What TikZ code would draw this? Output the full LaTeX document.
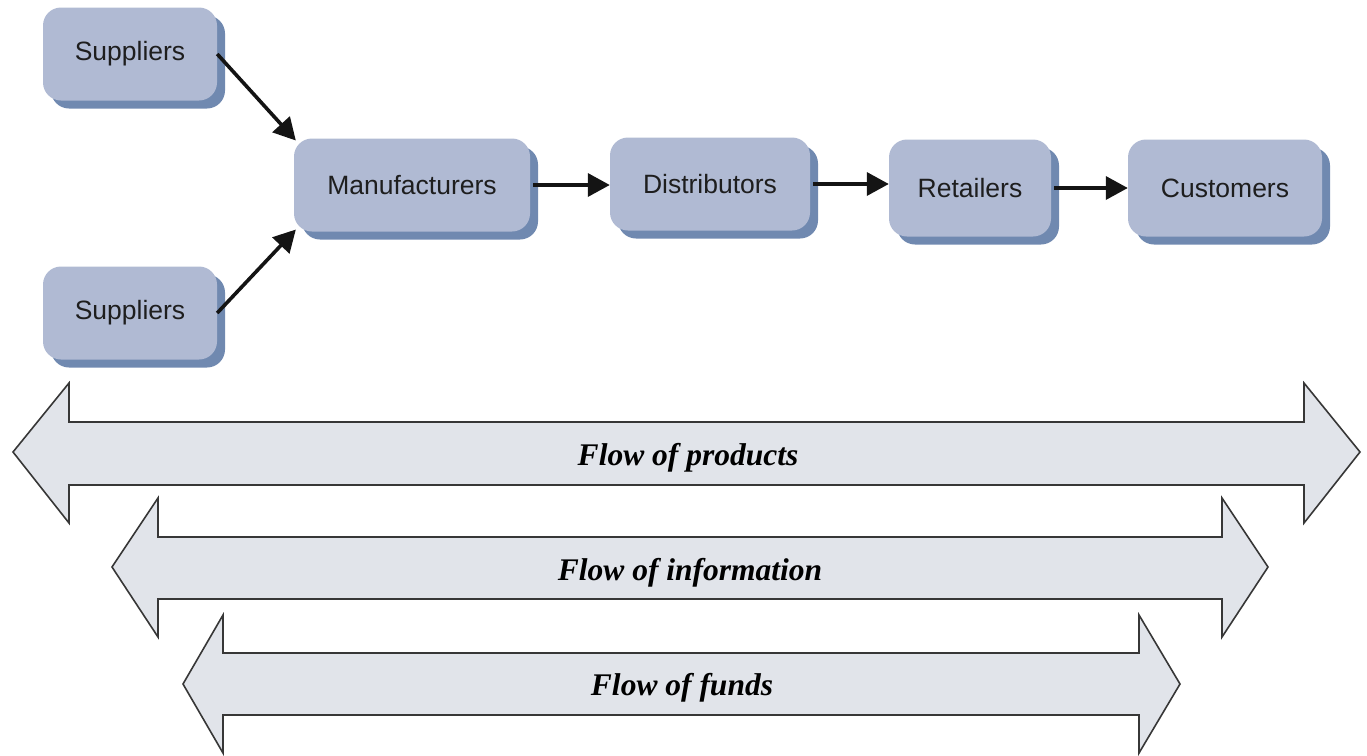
\documentclass[tikz,border=0pt]{standalone}
\usepackage{fontspec}
\setmainfont{Liberation Sans}
\newfontfamily\flowfont{Liberation Serif}
\usetikzlibrary{arrows.meta,shadows}
\definecolor{boxblue}{RGB}{176,186,211}
\definecolor{boxshade}{RGB}{112,137,176}
\definecolor{boxtext}{RGB}{30,30,30}
\definecolor{flowfill}{RGB}{225,228,234}
\definecolor{flowedge}{RGB}{55,55,55}
\definecolor{linkblack}{RGB}{20,20,20}
\begin{document}
\begin{tikzpicture}[x=1pt,y=-1pt]
        \tikzstyle{every node}=[inner sep=0pt]
        \tikzstyle{stage}=[rounded corners=18pt, fill=boxblue, text=boxtext, font=\fontsize{26.5}{30}\selectfont, minimum height=93pt, general shadow={fill=boxshade, shadow xshift=8pt, shadow yshift=-8pt}]
        \tikzstyle{link}=[-{Triangle[length=22pt,width=23pt]}, line width=3.6pt, draw=linkblack]
        \tikzstyle{flow}=[draw=flowedge, line width=1.6pt, fill=flowfill, line join=miter]
        \tikzstyle{flowtext}=[anchor=base, text=black, font=\flowfont\bfseries\itshape\fontsize{31.5}{36}\selectfont]
        \useasboundingbox (0,0) rectangle (1367,755);
        % chain of stages
        \node[stage, minimum width=174pt] (sup1) at (130,54) {Suppliers};
        \node[stage, minimum width=174pt] (sup2) at (130,313) {Suppliers};
        \node[stage, minimum width=236pt] (manu) at (412,185) {Manufacturers};
        \node[stage, minimum width=200pt] (dist) at (710,184) {Distributors};
        \node[stage, minimum width=162pt, minimum height=97pt] (reta) at (970,188) {Retailers};
        \node[stage, minimum width=194pt, minimum height=97pt] (cust) at (1225,188) {Customers};
        \draw[link, shorten >=-3pt] (sup1.east) -- (manu.north west);
        \draw[link, shorten >=-3pt] (sup2.east) -- (manu.south west);
        \draw[link, shorten <=3pt] (manu.east) -- (manu.east -| dist.west);
        \draw[link, shorten <=3pt] (dist.east) -- (dist.east -| reta.west);
        \draw[link, shorten <=3pt] (reta.east) -- (reta.east -| cust.west);
        % flows
        \draw[flow] (13,452) -- (69,383) -- (69,422) -- (1304,422) -- (1304,383) -- (1360,452) -- (1304,523) -- (1304,485) -- (69,485) -- (69,523) -- cycle;
        \draw[flow] (112,567) -- (158,498) -- (158,537) -- (1222,537) -- (1222,498) -- (1268,567) -- (1222,637) -- (1222,599) -- (158,599) -- (158,637) -- cycle;
        \draw[flow] (183,684) -- (223,615) -- (223,653) -- (1139,653) -- (1139,615) -- (1180,684) -- (1139,753) -- (1139,715) -- (223,715) -- (223,753) -- cycle;
        \node[flowtext] (products) at (688,465) {Flow of products};
        \node[flowtext] (information) at (690,580) {Flow of information};
        \node[flowtext] (funds) at (682,695) {Flow of funds};
\end{tikzpicture}
\end{document}
